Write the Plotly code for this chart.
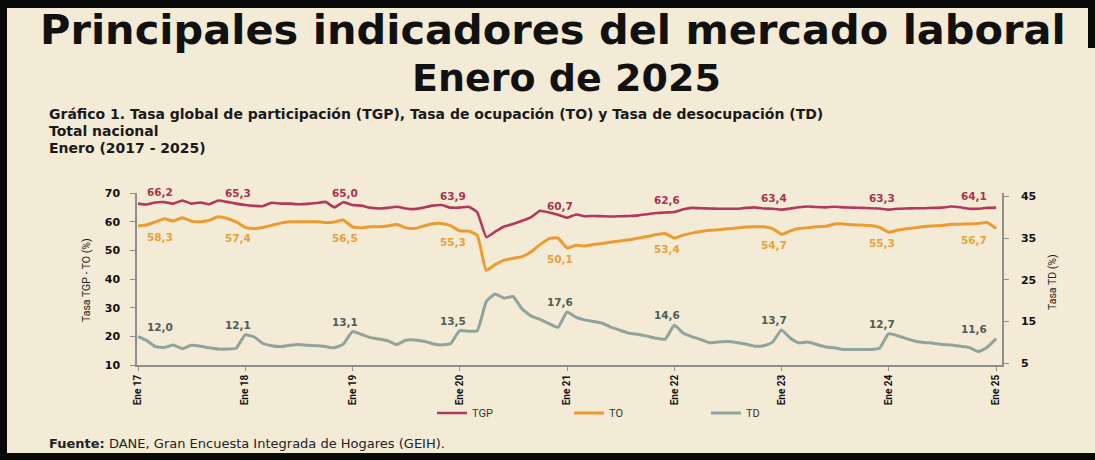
import plotly.graph_objects as go
import pandas as pd

# ---------------- data ----------------
months = pd.date_range("2017-01-01", "2025-01-01", freq="MS")

tgp = [66.3, 66.0, 66.7, 66.8, 66.3, 67.4, 66.3, 66.7, 66.1, 67.4, 66.9, 66.3,
       65.8, 65.5, 65.4, 66.6, 66.3, 66.3, 66.1, 66.2, 66.5, 66.9, 65.0, 66.8,
       65.8, 65.6, 64.9, 64.6, 64.8, 65.2, 64.6, 64.4, 64.9, 65.6, 65.8, 64.9,
       64.9, 65.2, 63.3, 54.6, 56.5, 58.3, 59.2, 60.3, 61.6, 63.8, 63.2, 62.4,
       61.4, 62.5, 61.9, 62.0, 61.9, 61.8, 61.9, 62.0, 62.2, 62.6, 63.0, 63.2,
       63.4, 64.3, 64.8, 64.7, 64.6, 64.5, 64.5, 64.5, 64.8, 65.0, 64.6, 64.5,
       64.2, 64.6, 65.0, 65.3, 65.1, 65.0, 65.2, 65.0, 64.9, 64.8, 64.7, 64.6,
       64.2, 64.5, 64.6, 64.7, 64.7, 64.8, 64.9, 65.3, 65.0, 64.5, 64.5, 64.8,
       64.9]

to = [58.5, 58.9, 59.9, 61.0, 60.2, 61.4, 60.2, 60.0, 60.5, 61.7, 61.1, 59.9,
      58.0, 57.6, 58.0, 58.7, 59.5, 60.0, 60.0, 60.0, 60.0, 59.7, 59.9, 60.6,
      58.2, 57.8, 58.2, 58.2, 58.5, 59.0, 57.9, 57.6, 58.5, 59.3, 59.4, 58.6,
      56.8, 56.7, 55.3, 43.0, 45.0, 46.6, 47.2, 47.8, 49.5, 52.0, 54.1, 54.3,
      50.8, 51.8, 51.5, 52.0, 52.4, 52.9, 53.3, 53.7, 54.3, 54.8, 55.5, 55.9,
      54.3, 55.3, 56.0, 56.6, 57.0, 57.2, 57.5, 57.8, 58.1, 58.2, 58.2, 57.6,
      55.6, 56.8, 57.6, 57.9, 58.2, 58.4, 59.2, 59.2, 58.9, 58.8, 58.7, 58.0,
      56.3, 57.1, 57.5, 57.9, 58.3, 58.5, 58.7, 59.1, 59.1, 59.2, 59.4, 59.7,
      57.6]

td = [11.4, 10.4, 9.0, 8.8, 9.4, 8.5, 9.3, 9.1, 8.7, 8.4, 8.4, 8.6,
      11.8, 11.3, 9.8, 9.2, 9.0, 9.3, 9.5, 9.3, 9.2, 9.0, 8.7, 9.6,
      12.6, 11.9, 11.2, 10.8, 10.4, 9.5, 10.5, 10.6, 10.3, 9.7, 9.4, 9.7,
      12.8, 12.7, 12.8, 19.8, 21.6, 20.6, 21.0, 18.0, 16.3, 15.5, 14.5, 13.6,
      17.3, 16.0, 15.4, 15.0, 14.6, 13.6, 12.9, 12.2, 11.9, 11.5, 11.0, 10.8,
      14.1, 12.2, 11.4, 10.7, 9.9, 10.1, 10.2, 10.0, 9.6, 9.1, 9.2, 10.0,
      13.0, 11.0, 9.9, 10.1, 9.5, 8.9, 8.7, 8.3, 8.3, 8.3, 8.3, 8.6,
      12.1, 11.6, 10.9, 10.3, 10.0, 9.8, 9.5, 9.4, 9.1, 8.8, 7.8, 8.8,
      10.9]

# January values printed on the chart
tgp_jan = [66.2, 65.3, 65.0, 63.9, 60.7, 62.6, 63.4, 63.3, 64.1]
to_jan = [58.3, 57.4, 56.5, 55.3, 50.1, 53.4, 54.7, 55.3, 56.7]
td_jan = [12.0, 12.1, 13.1, 13.5, 17.6, 14.6, 13.7, 12.7, 11.6]

tick_labels = ["Ene 17", "Ene 18", "Ene 19", "Ene 20", "Ene 21",
               "Ene 22", "Ene 23", "Ene 24", "Ene 25"]

# ---------------- layout helpers ----------------
W, H = 1095, 460
LM, RM, TM, BM = 137, 93, 193, 95
PW, PH = W - LM - RM, H - TM - BM


def px(x):
    return (x - LM) / PW


def py(y):
    return (H - BM - y) / PH


BG = "#f4ebd6"
C_TGP, C_TO, C_TD = "#b3395c", "#ec9b30", "#8fa49c"
L_TGP, L_TO, L_TD = "#a8324f", "#e4a23e", "#505c57"

fig = go.Figure()
fig.add_trace(go.Scatter(x=months, y=tgp, name="TGP", mode="lines",
                         line=dict(color=C_TGP, width=2.6, shape="spline", smoothing=0.4)))
fig.add_trace(go.Scatter(x=months, y=to, name="TO", mode="lines",
                         line=dict(color=C_TO, width=3, shape="spline", smoothing=0.4)))
fig.add_trace(go.Scatter(x=months, y=td, name="TD", mode="lines", yaxis="y2",
                         line=dict(color=C_TD, width=3, shape="spline", smoothing=0.4)))

jan_idx = list(range(0, len(months), 12))
jan_dates = [months[i] for i in jan_idx]

annotations = []


def fmt(v):
    return f"{v:.1f}".replace(".", ",")


def add_labels(series, labels, color, yref, yshift):
    n = len(labels)
    for k, (i, lab) in enumerate(zip(jan_idx, labels)):
        xs = 22 if k == 0 else (-22 if k == n - 1 else -7)
        annotations.append(dict(
            x=months[i], y=series[i], xref="x", yref=yref,
            text=f"<b>{fmt(lab)}</b>", showarrow=False,
            xshift=xs, yshift=yshift,
            font=dict(family="DejaVu Sans", size=10.5, color=color)))


add_labels(tgp, tgp_jan, L_TGP, "y", 12)
add_labels(to, to_jan, L_TO, "y", -11)
add_labels(td, td_jan, L_TD, "y2", 10)

SUB = dict(family="DejaVu Sans", size=14, color="#1a1a1a")
annotations += [
    dict(x=px(553), y=py(29), xref="paper", yref="paper", showarrow=False,
         text="<b>Principales indicadores del mercado laboral</b>",
         font=dict(family="DejaVu Sans", size=41.5, color="#111111"),
         xanchor="center", yanchor="middle"),
    dict(x=px(566), y=py(78), xref="paper", yref="paper", showarrow=False,
         text="<b>Enero de 2025</b>",
         font=dict(family="DejaVu Sans", size=38, color="#111111"),
         xanchor="center", yanchor="middle"),
    dict(x=px(47), y=py(114), xref="paper", yref="paper", showarrow=False,
         text="<b>Gráfico 1. Tasa global de participación (TGP), Tasa de ocupación (TO) y Tasa de desocupación (TD)</b>",
         font=SUB, xanchor="left", yanchor="middle"),
    dict(x=px(47), y=py(131), xref="paper", yref="paper", showarrow=False,
         text="<b>Total nacional</b>", font=SUB, xanchor="left", yanchor="middle"),
    dict(x=px(47), y=py(148), xref="paper", yref="paper", showarrow=False,
         text="<b>Enero (2017 - 2025)</b>", font=SUB, xanchor="left", yanchor="middle"),
    dict(x=px(86), y=py(280), xref="paper", yref="paper", showarrow=False,
         text="Tasa TGP - TO (%)", textangle=-90,
         font=dict(family="Roboto", size=10.5, color="#222222"),
         xanchor="center", yanchor="middle"),
    dict(x=px(1052), y=py(282), xref="paper", yref="paper", showarrow=False,
         text="Tasa TD (%)", textangle=-90,
         font=dict(family="Roboto", size=10.5, color="#222222"),
         xanchor="center", yanchor="middle"),
    dict(x=px(47), y=py(443), xref="paper", yref="paper", showarrow=False,
         text="<b>Fuente:</b> DANE, Gran Encuesta Integrada de Hogares (GEIH).",
         font=dict(family="DejaVu Sans", size=13, color="#222222"),
         xanchor="left", yanchor="middle"),
]

# scanned black frame
shapes = [
    dict(type="rect", xref="paper", yref="paper", x0=px(0), x1=px(W), y0=py(0), y1=py(8),
         fillcolor="#0a0a0a", line_width=0, layer="below"),
    dict(type="rect", xref="paper", yref="paper", x0=px(0), x1=px(7), y0=py(0), y1=py(H),
         fillcolor="#0a0a0a", line_width=0, layer="below"),
    dict(type="rect", xref="paper", yref="paper", x0=px(0), x1=px(W), y0=py(453), y1=py(H),
         fillcolor="#0a0a0a", line_width=0, layer="below"),
    dict(type="rect", xref="paper", yref="paper", x0=px(1088), x1=px(W), y0=py(0), y1=py(48),
         fillcolor="#0a0a0a", line_width=0, layer="below"),
]

axis_line = "#8e8e8e"
fig.update_layout(
    width=W, height=H, autosize=False,
    margin=dict(l=LM, r=RM, t=TM, b=BM),
    paper_bgcolor=BG, plot_bgcolor=BG,
    showlegend=True,
    legend=dict(orientation="h", x=px(432), y=py(413), xanchor="left", yanchor="middle",
                font=dict(family="Roboto", size=11, color="#333333"),
                entrywidth=92, entrywidthmode="pixels", bgcolor="rgba(0,0,0,0)",
                itemwidth=30),
    xaxis=dict(type="date",
               range=["2016-12-28 12:00", "2025-01-21"],
               tickvals=jan_dates, ticktext=tick_labels, tickangle=-90,
               tickfont=dict(family="Roboto", size=10, color="#111111", weight="bold"),
               showgrid=False, zeroline=False, showline=True, linecolor=axis_line, linewidth=1.5,
               ticks="outside", ticklen=4, tickcolor=axis_line),
    yaxis=dict(range=[10, 70], tickvals=[10, 20, 30, 40, 50, 60, 70],
               tickfont=dict(family="DejaVu Sans", size=11, color="#111111", weight="bold"),
               showgrid=False, zeroline=False, showline=True, linecolor=axis_line, linewidth=1.5,
               ticks="outside", ticklen=5, tickcolor=axis_line, ticklabelstandoff=8),
    yaxis2=dict(range=[4.59, 45.79], overlaying="y", side="right",
                tickvals=[5, 15, 25, 35, 45],
                tickfont=dict(family="DejaVu Sans", size=11, color="#111111", weight="bold"),
                showgrid=False, zeroline=False, showline=True, linecolor=axis_line, linewidth=1.5,
                ticks="outside", ticklen=5, tickcolor=axis_line, ticklabelstandoff=10),
    annotations=annotations,
    shapes=shapes,
)

fig.write_html("out.html",
               config={"displayModeBar": False},
               post_script="document.body.style.margin='0px';document.body.style.overflow='hidden';")
